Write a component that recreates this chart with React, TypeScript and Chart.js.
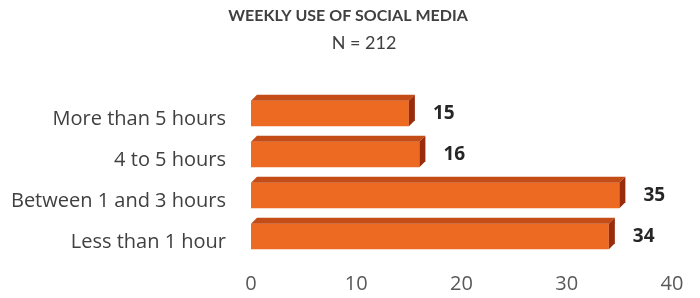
import React, { useEffect, useRef } from "react";
import { Chart, registerables } from "chart.js";

Chart.register(...registerables);

const TITLE = "WEEKLY USE OF SOCIAL MEDIA";
const SUBTITLE = "N = 212";
const categories = ["More than 5 hours", "4 to 5 hours", "Between 1 and 3 hours", "Less than 1 hour"];
const values = [15, 16, 35, 34];
const xTicks = [0, 10, 20, 30, 40];

const FONT = "'Open Sans', Lato, sans-serif";
const TFONT = "Lato, 'Open Sans', sans-serif";
const DEPTH = 6;

const bar3d = {
  id: "bar3d",
  afterDatasetsDraw(chart: any) {
    const ctx = chart.ctx;
    const meta = chart.getDatasetMeta(0);
    ctx.save();
    meta.data.forEach((el: any, i: number) => {
      const { x, y, base, height } = el.getProps(["x", "y", "base", "height"], true);
      const x0 = base;
      const x1 = x;
      const y0 = y - height / 2;
      const y1 = y + height / 2;
      // top face
      ctx.fillStyle = "#c44c17";
      ctx.beginPath();
      ctx.moveTo(x0, y0);
      ctx.lineTo(x0 + DEPTH, y0 - DEPTH);
      ctx.lineTo(x1 + DEPTH, y0 - DEPTH);
      ctx.lineTo(x1, y0);
      ctx.closePath();
      ctx.fill();
      // side face
      ctx.fillStyle = "#9a2c0e";
      ctx.beginPath();
      ctx.moveTo(x1, y0);
      ctx.lineTo(x1 + DEPTH, y0 - DEPTH);
      ctx.lineTo(x1 + DEPTH, y1 - DEPTH);
      ctx.lineTo(x1, y1);
      ctx.closePath();
      ctx.fill();
      // value label
      ctx.fillStyle = "#262626";
      ctx.font = `bold 19px ${FONT}`;
      ctx.textAlign = "left";
      ctx.textBaseline = "middle";
      ctx.fillText(String(values[i]), x1 + DEPTH + 18, y);
    });
    // titles
    ctx.fillStyle = "#404040";
    ctx.textAlign = "center";
    ctx.textBaseline = "middle";
    ctx.font = `bold 16px ${TFONT}`;
    ctx.fillText(TITLE, 348, 16);
    ctx.font = `18px ${TFONT}`;
    ctx.fillText(SUBTITLE, 364, 43);
    ctx.restore();
  },
};

export default function App() {
  const ref = useRef<HTMLCanvasElement>(null);
  useEffect(() => {
    document.body.style.margin = "0";
    const chart = new Chart(ref.current!, {
      type: "bar",
      data: {
        labels: categories,
        datasets: [
          {
            data: values,
            backgroundColor: "#ec6a21",
            borderWidth: 0,
            barPercentage: 0.62,
            categoryPercentage: 1,
          },
        ],
      },
      options: {
        indexAxis: "y",
        animation: false,
        responsive: false,
        layout: { padding: { top: 93, right: 28, bottom: 0, left: 0 } },
        plugins: { legend: { display: false }, tooltip: { enabled: false }, title: { display: false } },
        scales: {
          x: {
            min: 0,
            max: 40,
            afterBuildTicks: (s: any) => {
              s.ticks = xTicks.map((v) => ({ value: v }));
            },
            afterFit: (s: any) => {
              s.height = 41;
              s.paddingLeft = 0;
              s.paddingRight = 0;
            },
            grid: { display: false, drawTicks: false },
            border: { display: false },
            ticks: { color: "#595959", font: { family: FONT, size: 20 }, padding: 15, maxRotation: 0 },
          },
          y: {
            afterFit: (s: any) => {
              s.width = 251;
              s.paddingTop = 0;
              s.paddingBottom = 0;
            },
            grid: { display: false, drawTicks: false },
            border: { display: false },
            ticks: { color: "#404040", font: { family: FONT, size: 20 }, padding: 25, labelOffset: 6 },
          },
        },
      },
      plugins: [bar3d],
    });
    return () => chart.destroy();
  }, []);
  return <canvas ref={ref} width={700} height={298} style={{ display: "block" }} />;
}
